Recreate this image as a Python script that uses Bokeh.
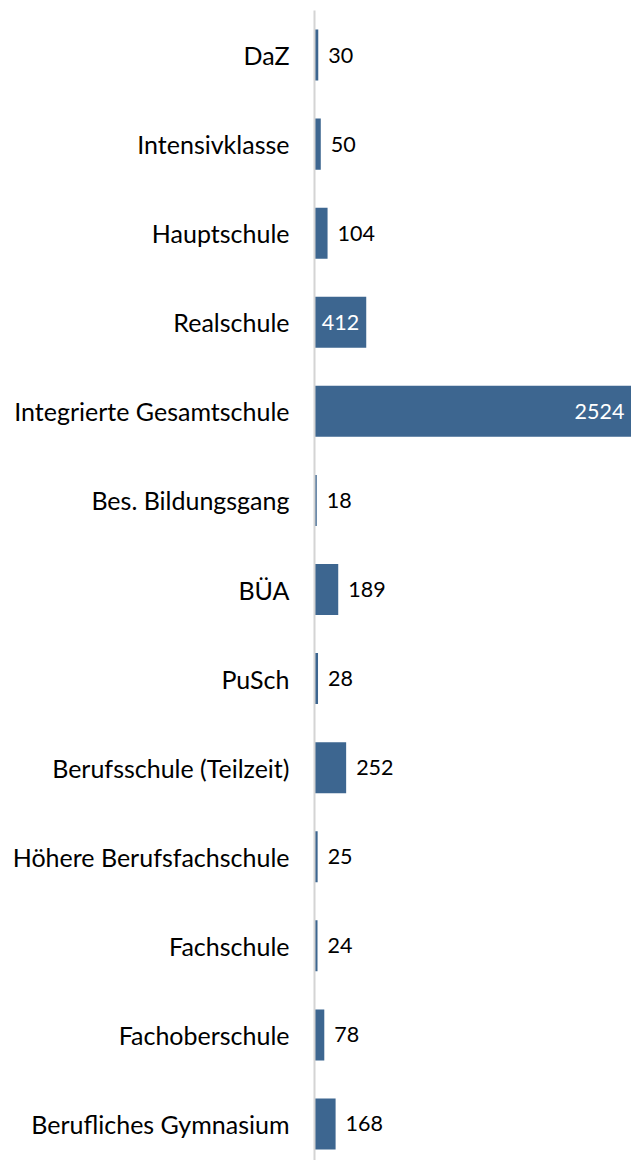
from bokeh.plotting import figure
from bokeh.models import Range1d, FixedTicker, ColumnDataSource
from bokeh.core.properties import value
from bokeh.embed import file_html
from bokeh.resources import INLINE

categories = ["DaZ", "Intensivklasse", "Hauptschule", "Realschule",
              "Integrierte Gesamtschule", "Bes. Bildungsgang", "BÜA", "PuSch",
              "Berufsschule (Teilzeit)", "Höhere Berufsfachschule", "Fachschule",
              "Fachoberschule", "Berufliches Gymnasium"]
values = [30, 50, 104, 412, 2524, 18, 189, 28, 252, 25, 24, 78, 168]

FONT = "Lato"
BAR = "#3d6690"

idx = list(range(len(categories)))
x_end = max(values)

p = figure(width=631, height=1160,
           x_range=Range1d(0, x_end), y_range=Range1d(12.41, -0.5),
           output_backend="svg", toolbar_location=None,
           min_border_left=314, min_border_right=0,
           min_border_top=10, min_border_bottom=0)
p.outline_line_color = None
p.grid.visible = False
p.xaxis.visible = False
p.background_fill_color = "white"
p.border_fill_color = "white"

p.hbar(y=idx, left=0, right=values, height=0.573,
       fill_color=BAR, line_color=None)

inside = [v >= 400 for v in values]
src_out = ColumnDataSource(dict(
    x=[v for v, i in zip(values, inside) if not i],
    y=[k for k, i in zip(idx, inside) if not i],
    t=[str(v) for v, i in zip(values, inside) if not i]))
src_in = ColumnDataSource(dict(
    x=[v for v, i in zip(values, inside) if i],
    y=[k for k, i in zip(idx, inside) if i],
    t=[str(v) for v, i in zip(values, inside) if i]))

p.text(x="x", y="y", text="t", source=src_out, x_offset=10,
       text_align="left", text_baseline="middle", text_color="black",
       text_font=value(FONT), text_font_size="21.5px")
p.text(x="x", y="y", text="t", source=src_in, x_offset=-7,
       text_align="right", text_baseline="middle", text_color="white",
       text_font=value(FONT), text_font_size="21.5px")

ax = p.yaxis[0]
ax.ticker = FixedTicker(ticks=idx)
ax.major_label_overrides = {k: c for k, c in zip(idx, categories)}
ax.major_tick_line_color = None
ax.minor_tick_line_color = None
ax.axis_line_color = "#d4d4d4"
ax.axis_line_width = 2
ax.major_label_standoff = 19
ax.major_label_text_font = FONT
ax.major_label_text_font_size = "25px"
ax.major_label_text_color = "black"

open("out.html", "w").write(file_html(p, INLINE))
